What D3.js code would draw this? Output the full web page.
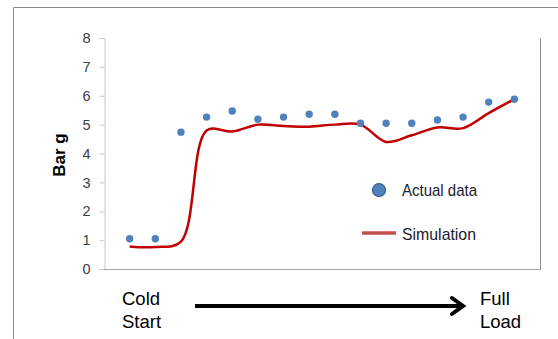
<!DOCTYPE html>
<html lang="en">
<head>
<meta charset="UTF-8">
<title>Bar g - Cold Start to Full Load</title>
<script src="https://cdnjs.cloudflare.com/ajax/libs/d3/7.8.5/d3.min.js"></script>
<style>
  body { margin: 0; background: #fff; }
  text { font-family: "Liberation Sans", Arial, sans-serif; }
</style>
</head>
<body>
<svg width="558" height="339"></svg>
<script>
    // operating points, cold start (1) through full load (16)
    const steps = [1, 2, 3, 4, 5, 6, 7, 8, 9, 10, 11, 12, 13, 14, 15, 16];
    const actual = [1.05, 1.05, 4.74, 5.26, 5.47, 5.19, 5.26, 5.36, 5.36, 5.05, 5.05, 5.05, 5.16, 5.26, 5.78, 5.88];
    const simulation = [0.78, 0.76, 0.95, 4.8, 4.76, 5.0, 4.95, 4.93, 5.0, 5.0, 4.4, 4.63, 4.9, 4.88, 5.4, 5.88];
    const yTicks = [0, 1, 2, 3, 4, 5, 6, 7, 8];

    const svg = d3.select('svg');

    const x = d3.scaleLinear().domain([0, 17]).range([104, 540]);
    const y = d3.scaleLinear().domain([0, 8]).range([269, 38]);

    // outer frame (only top + left visible)
    svg.append('path')
        .attr('d', 'M13.5,339 L13.5,7.5 L558,7.5')
        .attr('fill', 'none')
        .attr('stroke', '#8c8c8c')
        .attr('stroke-width', 1);

    // right border of the plot box
    svg.append('line')
        .attr('x1', 540.5).attr('x2', 540.5)
        .attr('y1', 38).attr('y2', 270)
        .attr('stroke', '#8c8c8c');

    // y axis
    const yAxis = d3.axisLeft(y).tickValues(yTicks).tickSize(5).tickPadding(9);
    const gy = svg.append('g')
        .attr('transform', 'translate(104.5,0)')
        .call(yAxis);
    gy.select('.domain').attr('stroke', '#c8c8c8');
    gy.selectAll('.tick line').attr('stroke', '#c8c8c8');
    gy.selectAll('.tick text')
        .attr('font-size', '14.5px')
        .attr('font-family', '"Liberation Sans", Arial, sans-serif')
        .attr('fill', '#404040');

    // x axis line (no ticks)
    svg.append('line')
        .attr('x1', x(0)).attr('x2', x(17))
        .attr('y1', y(0) + 0.5).attr('y2', y(0) + 0.5)
        .attr('stroke', '#a6a6a6');

    svg.append('text')
        .attr('transform', 'translate(65,155) rotate(-90)')
        .attr('text-anchor', 'middle')
        .attr('font-size', '17px')
        .attr('font-weight', 'bold')
        .attr('fill', '#000')
        .text('Bar g');

    // simulation line
    const line = d3.line()
        .x((d, i) => x(steps[i]))
        .y(d => y(d))
        .curve(d3.curveCatmullRom.alpha(0.5));

    svg.append('path')
        .datum(simulation)
        .attr('d', line)
        .attr('fill', 'none')
        .attr('stroke', '#c00000')
        .attr('stroke-width', 2.5);

    // actual data points
    svg.append('g')
        .selectAll('circle')
        .data(actual)
        .join('circle')
        .attr('cx', (d, i) => x(steps[i]))
        .attr('cy', d => y(d))
        .attr('r', 3.7)
        .attr('fill', '#4f81bd');

    // legend
    const lg = svg.append('g');
    lg.append('circle')
        .attr('cx', 379).attr('cy', 190).attr('r', 6.5)
        .attr('fill', '#4f81bd')
        .attr('stroke', '#385d8a')
        .attr('stroke-width', 1.2);
    lg.append('text')
        .attr('x', 402).attr('y', 196)
        .attr('font-size', '17px')
        .attr('textLength', 75)
        .attr('lengthAdjust', 'spacingAndGlyphs')
        .attr('fill', '#1a1a2e')
        .text('Actual data');
    lg.append('line')
        .attr('x1', 362).attr('x2', 396)
        .attr('y1', 233).attr('y2', 233)
        .attr('stroke', '#c0504d')
        .attr('stroke-width', 3.5);
    lg.append('text')
        .attr('x', 402).attr('y', 240)
        .attr('font-size', '17px')
        .attr('textLength', 74)
        .attr('lengthAdjust', 'spacingAndGlyphs')
        .attr('fill', '#1a1a2e')
        .text('Simulation');

    // bottom annotation
    const note = (tx, lines) => {
        lines.forEach((t, i) => {
            svg.append('text')
                .attr('x', tx).attr('y', 305 + i * 23)
                .attr('font-size', '18.5px')
                .attr('fill', '#000')
                .text(t);
        });
    };
    note(122, ['Cold', 'Start']);
    note(480, ['Full', 'Load']);

    svg.append('line')
        .attr('x1', 195).attr('x2', 462)
        .attr('y1', 306).attr('y2', 306)
        .attr('stroke', '#000')
        .attr('stroke-width', 4);
    svg.append('path')
        .attr('d', 'M452,298 L463,306 L452,314')
        .attr('fill', 'none')
        .attr('stroke', '#000')
        .attr('stroke-width', 4)
        .attr('stroke-linejoin', 'miter')
        .attr('stroke-linecap', 'round');
</script>
</body>
</html>
